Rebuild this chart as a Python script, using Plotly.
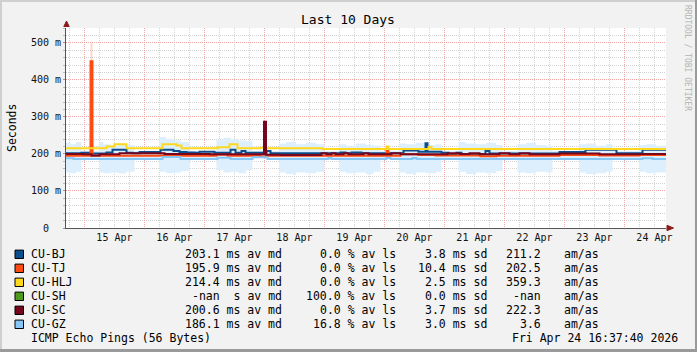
import plotly.graph_objects as go
import pandas as pd

# ---------------- data ----------------
START = pd.Timestamp("2026-04-14 16:37:40")
SPAN_H = 240  # 10 days

names = ["CU-BJ", "CU-TJ", "CU-HLJ", "CU-SH", "CU-SC", "CU-GZ"]
colors = ["#0c4d8c", "#ff4a12", "#fdd81c", "#4f9a1c", "#76061e", "#86c6f7"]
med_txt = ["203.1 ms", "195.9 ms", "214.4 ms", "-nan  s", "200.6 ms", "186.1 ms"]
loss_txt = ["0.0", "0.0", "0.0", "100.0", "0.0", "16.8"]
sd_txt = ["3.8", "10.4", "2.5", "0.0", "3.7", "3.0"]
amas_txt = ["211.2", "202.5", "359.3", "-nan", "222.3", "3.6"]

day_labels = ["15 Apr", "16 Apr", "17 Apr", "18 Apr", "19 Apr",
              "20 Apr", "21 Apr", "22 Apr", "23 Apr", "24 Apr"]
day_ticks = ["2026-04-15", "2026-04-16", "2026-04-17", "2026-04-18", "2026-04-19",
             "2026-04-20", "2026-04-21", "2026-04-22", "2026-04-23", "2026-04-24"]
y_tickvals = [0, 100, 200, 300, 400, 500]
y_ticktext = ["0\u00a0\u00a0", "100 m", "200 m", "300 m", "400 m", "500 m"]

# step series: hours since start, median rtt in ms
bj_t = [0, 6.2, 10.2, 16.2, 18.6, 24.2, 26.6, 29.4, 37.8, 43, 45.4, 48.2, 51.4, 53.4,
        59.4, 65.8, 67.8, 70.2, 71.8, 80.2, 81.8, 109.8, 111.8, 114.2, 118.2, 135, 141,
        143.8, 144.6, 150.2, 153, 156.2, 158.2, 167.8, 169.4, 197.4, 207.8, 220.2, 230.6, 240]
bj_v = [202, 203, 201, 204, 211, 203, 202, 205, 211, 208, 205, 204, 203, 206,
        203, 211, 203, 208, 203, 208, 202, 204, 202, 204, 202, 209, 206,
        229, 206, 203, 200, 203, 200, 208, 201, 205, 211, 202, 211, 211]

tj_t = [0, 9.8, 10.6, 37.4, 45.4, 60.2, 64.6, 77.8, 80.6, 128.2, 129, 133.8, 141,
        147.8, 165.8, 172.2, 197.4, 213.4, 229.4, 240]
tj_v = [195, 450, 195, 196, 195, 198, 195, 193, 195, 212, 195, 199, 197,
        196, 194, 195, 197, 196, 197, 197]
tj_max_t = [10.2, 10.2]
tj_max_v = [450, 500]

hlj_t = [0, 16.2, 19.4, 24.2, 38.6, 44.2, 46.2, 60.6, 65.4, 68.6, 77.8, 79.4, 102.6,
         128.2, 129, 145, 146.2, 240]
hlj_v = [215, 220, 226, 215, 226, 223, 215, 218, 226, 215, 217, 215, 213,
         220, 213, 219, 213, 213]

sc_t = [0, 7, 10.2, 13.4, 21.4, 39.4, 57.4, 79.2, 80, 85.8, 102.2, 104.2, 106.2, 107.8,
        111, 113, 119, 121, 130.2, 133.8, 152.6, 157.4, 161.4, 165.4, 173.4, 177.4,
        181.4, 185.4, 197.4, 213.4, 229.4, 240]
sc_v = [200, 199, 196, 199, 202, 200, 199, 287, 198, 197, 202, 199, 202, 199,
        202, 199, 202, 199, 202, 199, 202, 200, 202, 199, 202, 199,
        202, 199, 201, 199, 200, 200]

gz_t = [0, 3, 38.6, 45.8, 60.6, 65.8, 74.6, 80.6, 105, 106.2, 128.2, 129.8, 138.6, 140.2,
        230.6, 234.6, 240]
gz_v = [188, 186, 192, 186, 190, 186, 191, 186, 189, 186, 189, 186, 189, 186,
        188, 186, 186]

# smoke band (light blue): hours, lower ms, upper ms
smoke_t = [0, 2, 4, 6.2, 13.4, 15, 18, 21, 24, 27.4, 37.4, 40, 43, 46, 49.4,
           60.2, 63, 66, 69, 72, 74.6, 85.4, 88, 92, 96, 100, 103.4,
           109.4, 112, 116, 120, 123, 125.8, 133.4, 136, 140, 144, 148, 150.2,
           157, 160, 164, 168, 172, 174.6, 180.6, 184, 188, 192, 194.6,
           205.4, 208, 212, 216, 218.6, 229.4, 232, 236, 240]
smoke_lo = [150, 148, 152, 188, 150, 148, 150, 147, 152, 188, 152, 148, 150, 154, 188,
            156, 150, 152, 148, 156, 188, 150, 146, 150, 148, 152, 188,
            152, 148, 150, 146, 152, 188, 150, 146, 150, 148, 152, 188,
            152, 146, 150, 148, 154, 188, 150, 148, 152, 150, 188,
            150, 146, 148, 152, 188, 152, 148, 150, 150]
smoke_hi = [230, 226, 232, 208, 232, 226, 222, 228, 224, 208, 246, 240, 236, 232, 208,
            238, 244, 240, 236, 234, 208, 228, 232, 226, 230, 226, 208,
            226, 222, 228, 224, 222, 208, 228, 226, 230, 224, 226, 208,
            232, 228, 226, 230, 224, 208, 226, 230, 224, 222, 208,
            226, 228, 222, 226, 208, 224, 226, 222, 222]


def to_time(hours):
    return [START + pd.Timedelta(hours=h) for h in hours]


# ---------------- figure ----------------
W, H = 697, 352
ML, MT, PW, PH = 66, 28, 600, 200
MR, MB = W - ML - PW, H - MT - PH


def px(x):
    return (x - ML) / PW


def py(y):
    return 1 - (y - MT) / PH


MONO = "DejaVu Sans Mono"
fig = go.Figure()

fig.add_trace(go.Scatter(x=to_time(smoke_t), y=smoke_lo, mode="lines",
                         line=dict(width=0, shape="hv"), hoverinfo="skip"))
fig.add_trace(go.Scatter(x=to_time(smoke_t), y=smoke_hi, mode="lines",
                         line=dict(width=0, shape="hv"), fill="tonexty",
                         fillcolor="#ddeffc", hoverinfo="skip"))

fig.add_trace(go.Scatter(x=to_time(tj_max_t), y=tj_max_v, mode="lines",
                         line=dict(width=2, color="rgba(255,90,40,0.25)")))

series = [(bj_t, bj_v, 0), (tj_t, tj_v, 1), (hlj_t, hlj_v, 2), (sc_t, sc_v, 4), (gz_t, gz_v, 5)]
for t, v, i in series:
    fig.add_trace(go.Scatter(x=to_time(t), y=v, mode="lines", name=names[i],
                             line=dict(width=2, color=colors[i], shape="hv")))

grid_minor = "#d2d2d2"
grid_major = "#f2a6a6"

fig.update_xaxes(
    type="date",
    range=[START, START + pd.Timedelta(hours=SPAN_H)],
    tickmode="array", tickvals=day_ticks, ticktext=day_labels,
    ticklabelshift=30, ticks="", ticklen=0,
    showgrid=True, gridcolor=grid_major, griddash="1px,1px", gridwidth=1,
    minor=dict(dtick=6 * 3600 * 1000, tick0="2026-04-15", showgrid=True,
               gridcolor=grid_minor, griddash="1px,1px", gridwidth=1),
    showline=True, linecolor="#555555", linewidth=1, zeroline=False,
    tickfont=dict(family=MONO, size=10, color="#111111"),
    fixedrange=True,
)
fig.update_yaxes(
    range=[0, 540],
    tickmode="array", tickvals=y_tickvals, ticktext=y_ticktext,
    ticks="outside", ticklen=2, tickcolor="#999999",
    showgrid=True, gridcolor=grid_major, griddash="1px,1px", gridwidth=1,
    minor=dict(dtick=20, showgrid=True, gridcolor=grid_minor, griddash="1px,1px",
               gridwidth=1, ticks="outside", ticklen=2, tickcolor="#bbbbbb"),
    showline=True, linecolor="#555555", linewidth=1, zeroline=False,
    tickfont=dict(family=MONO, size=10, color="#111111"),
    fixedrange=True,
)

annotations = []


def txt(x, y, s, anchor="left", size=11.5, color="#000000", angle=0):
    annotations.append(dict(
        x=px(x), y=py(y), xref="paper", yref="paper", showarrow=False,
        text=s.replace(" ", "\u00a0"), xanchor=anchor, yanchor="middle",
        textangle=angle, font=dict(family=MONO, size=size, color=color)))


txt(348, 19, "Last 10 Days", anchor="center", size=13)
txt(12, 128, "Seconds", anchor="center", size=11.5, angle=-90)
txt(688, 58, "RRDTOOL / TOBI OETIKER", anchor="center", size=8, color="#b4b4b4", angle=90)

shapes = []
row0, rstep = 254.3, 14.0
for i, n in enumerate(names):
    yc = row0 + i * rstep
    shapes.append(dict(type="rect", xref="paper", yref="paper",
                       x0=px(15), x1=px(23.5), y0=py(yc + 4.2), y1=py(yc - 4.2),
                       fillcolor=colors[i], line=dict(color="#000000", width=1)))
    txt(29, yc, n)
    txt(284, yc, med_txt[i] + " av md", anchor="right")
    txt(398, yc, loss_txt[i] + " % av ls", anchor="right")
    txt(489, yc, sd_txt[i] + " ms sd", anchor="right")
    txt(543, yc, amas_txt[i], anchor="right")
    txt(562, yc, "am/as")

txt(29, row0 + 6 * rstep, "ICMP Echo Pings (56 Bytes)")
txt(680, row0 + 6 * rstep, "Fri Apr 24 16:37:40 2026", anchor="right")

# axis arrows
shapes.append(dict(type="path", xref="paper", yref="paper", layer="above",
                   path=f"M {px(63.8)},{py(26.5)} L {px(69.2)},{py(26.5)} L {px(66.5)},{py(21)} Z",
                   fillcolor="#8b1a1a", line=dict(color="#8b1a1a", width=1)))
shapes.append(dict(type="path", xref="paper", yref="paper", layer="above",
                   path=f"M {px(667)},{py(225.3)} L {px(667)},{py(230.7)} L {px(673.5)},{py(228)} Z",
                   fillcolor="#8b1a1a", line=dict(color="#8b1a1a", width=1)))

# bevelled border
shapes += [
    dict(type="rect", xref="paper", yref="paper", x0=px(0), x1=px(W), y0=py(0), y1=py(2),
         fillcolor="#cfcfcf", line=dict(width=0)),
    dict(type="rect", xref="paper", yref="paper", x0=px(0), x1=px(2), y0=py(0), y1=py(H),
         fillcolor="#cfcfcf", line=dict(width=0)),
    dict(type="rect", xref="paper", yref="paper", x0=px(0), x1=px(W), y0=py(H - 3), y1=py(H),
         fillcolor="#9a9a9a", line=dict(width=0)),
    dict(type="rect", xref="paper", yref="paper", x0=px(W - 2), x1=px(W), y0=py(0), y1=py(H),
         fillcolor="#9a9a9a", line=dict(width=0)),
]

fig.update_layout(
    width=W, height=H,
    margin=dict(l=ML, r=MR, t=MT, b=MB, pad=0),
    paper_bgcolor="#f2f2f2", plot_bgcolor="#ffffff",
    showlegend=False,
    annotations=annotations, shapes=shapes,
    font=dict(family=MONO),
)

fig.write_html("out.html")
